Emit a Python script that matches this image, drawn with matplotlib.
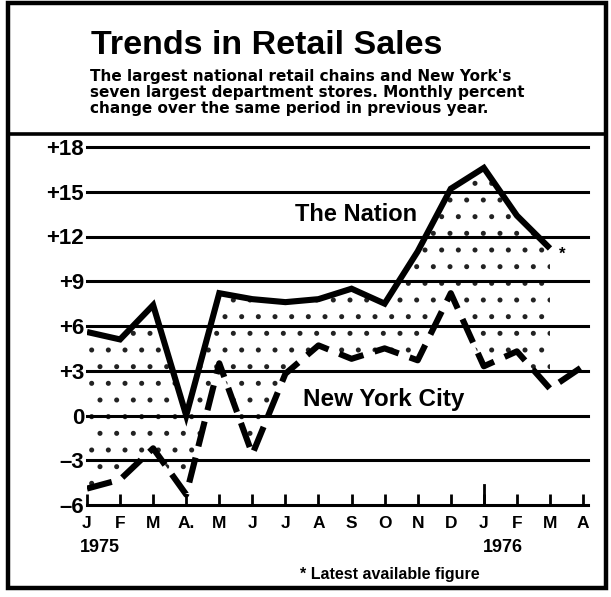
import matplotlib
matplotlib.use("Agg")
import matplotlib.pyplot as plt
from matplotlib.patches import Rectangle
from matplotlib.lines import Line2D

plt.rcParams['font.family'] = ['Liberation Sans', 'DejaVu Sans']
plt.rcParams['hatch.linewidth'] = 1.2
plt.rcParams['hatch.color'] = '#222222'

# Monthly percent change over same month of previous year
months = ['J', 'F', 'M', 'A.', 'M', 'J', 'J', 'A', 'S', 'O', 'N', 'D', 'J', 'F', 'M', 'A']
nation = [5.6, 5.1, 7.4, 0.0, 8.2, 7.8, 7.6, 7.8, 8.5, 7.5, 11.0, 15.2, 16.6, 13.4, 11.2]
nyc = [-4.9, -4.3, -2.2, -5.3, 3.5, -2.6, 2.8, 4.7, 3.8, 4.5, 3.7, 8.2, 3.3, 4.3, 1.8, 3.3]
y_ticks = [18, 15, 12, 9, 6, 3, 0, -3, -6]
y_labels = ['+18', '+15', '+12', '+9', '+6', '+3', '0', '\u20133', '\u20136']

W, H = 611, 597
fig = plt.figure(figsize=(W / 100, H / 100), dpi=100)
fig.patch.set_facecolor('white')

def fx(px):
    return px / W

def fy(py):
    return 1 - py / H

# outer frame
fig.add_artist(Rectangle((fx(8), fy(588)), fx(598), 585 / H, fill=False,
                         lw=3.2, ec='black', transform=fig.transFigure))
# rule under the subtitle
fig.add_artist(Line2D([fx(8), fx(606)], [fy(134), fy(134)], lw=2.6, color='black',
                      transform=fig.transFigure))

fig.text(fx(91), fy(45), 'Trends in Retail Sales', fontsize=24.5, fontweight='bold',
         va='center', ha='left')
sub = ["The largest national retail chains and New York's",
       'seven largest department stores. Monthly percent',
       'change over the same period in previous year.']
for i, line in enumerate(sub):
    fig.text(fx(90), fy(77 + 15.5 * i), line, fontsize=11, fontweight='bold',
             family='DejaVu Sans', va='center', ha='left')

ax = fig.add_axes([fx(87), fy(505), fx(501), (505 - 147) / H])
ax.set_xlim(0, 15.15)
ax.set_ylim(-6, 18)
for s in ax.spines.values():
    s.set_visible(False)

for v in y_ticks:
    ax.axhline(v, color='black', lw=2.2, zorder=1, clip_on=False)

xs_n = list(range(len(nation)))
xs_c = list(range(len(nyc)))

# stippled band between the two series
ax.fill_between(xs_n, nation, nyc[:len(nation)], facecolor='none', edgecolor='#222222',
                hatch='.', lw=0, zorder=0)

ax.plot(xs_n, nation, color='black', lw=4.4, solid_joinstyle='miter',
        solid_capstyle='butt', zorder=3)
ax.plot(xs_c, nyc, color='black', lw=4.4, dashes=(4.2, 1.9), dash_capstyle='butt',
        zorder=3)

ax.set_yticks(y_ticks)
ax.set_yticklabels(y_labels, fontsize=16, fontweight='bold')
ax.tick_params(axis='y', length=0, pad=2)
ax.set_xticks(xs_c)
ax.set_xticklabels(months, fontsize=12.5, fontweight='bold')
ax.tick_params(axis='x', direction='in', length=8, width=2, pad=8)
ax.axvline(12, ymin=0, ymax=0.055, color='black', lw=2)

ax.text(8.15, 13.45, 'The Nation', fontsize=17, fontweight='bold', ha='center',
        va='center')
ax.text(8.97, 1.1, 'New York City', fontsize=17.5, fontweight='bold', ha='center',
        va='center')
ax.annotate('*', (xs_n[-1], nation[-1]), xytext=(9, -4), textcoords='offset points',
            fontsize=12, fontweight='bold', ha='center', va='center')

fig.text(fx(80), fy(548), '1975', fontsize=13, fontweight='bold', va='center', ha='left')
fig.text(fx(503), fy(548), '1976', fontsize=13, fontweight='bold', va='center', ha='center')
fig.text(fx(300), fy(574), '* Latest available figure', fontsize=11.5, fontweight='bold',
         va='center', ha='left')

fig.savefig('out.png', dpi=100, facecolor='white')
